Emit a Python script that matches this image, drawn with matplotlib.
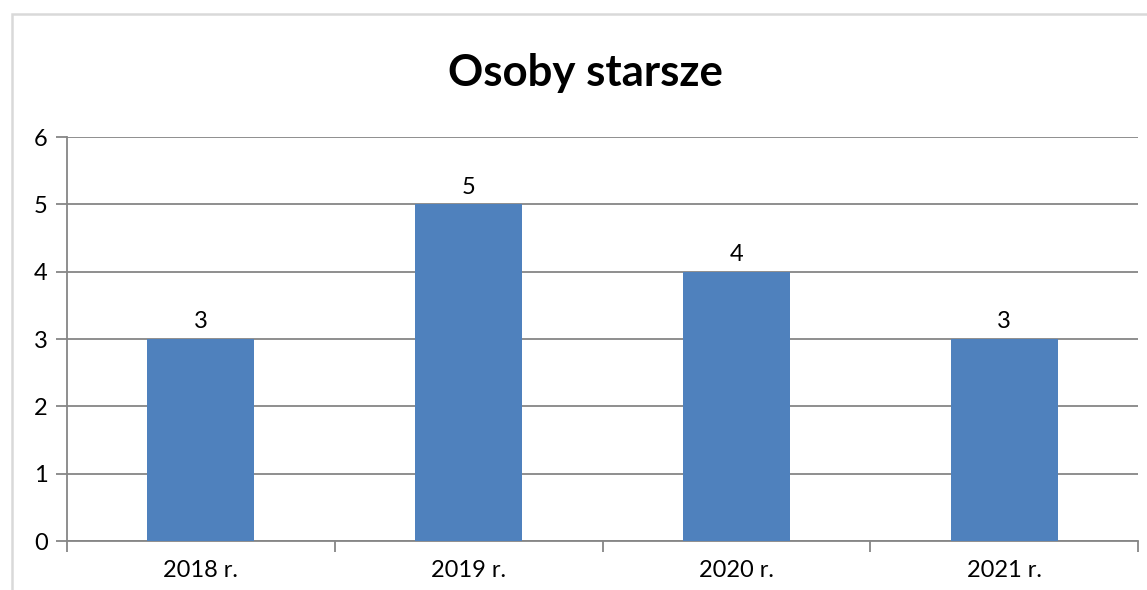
import numpy as np
import matplotlib.pyplot as plt
from matplotlib.patches import Rectangle

# chart data
categories = ['2018 r.', '2019 r.', '2020 r.', '2021 r.']
values = [3, 5, 4, 3]
yticks = [0, 1, 2, 3, 4, 5, 6]

plt.rcParams['font.family'] = ['Lato', 'DejaVu Sans']

fig = plt.figure(figsize=(11.47, 5.9), dpi=100)
ax = fig.add_axes([67/1147, 1 - 541/590, (1138 - 67)/1147, (541 - 137)/590])

# light frame around the chart area
fig.patches.append(Rectangle((11.5/1147, -0.1), 1.2, (590 - 13.5)/590 + 0.1,
                             transform=fig.transFigure, fill=False,
                             edgecolor='#d9d9d9', linewidth=1.8))

x = np.arange(len(categories))
bars = ax.bar(x, values, width=0.4, color='#4f81bd', zorder=3)
for xi, v in zip(x, values):
    ax.text(xi, v + 0.1, str(v), ha='center', va='bottom', fontsize=17)

ax.set_xlim(-0.5, len(categories) - 0.5)
ax.set_ylim(0, 6)
ax.set_yticks(yticks)
ax.set_yticklabels([str(t) for t in yticks], fontsize=17)
ax.yaxis.grid(True, color='#868686', linewidth=1.3, zorder=0)

# boundary ticks between categories, labels at centres
ax.set_xticks(np.arange(-0.5, len(categories)))
ax.set_xticklabels([])
ax.set_xticks(x, minor=True)
ax.set_xticklabels(categories, minor=True, fontsize=17)
ax.tick_params(axis='x', which='major', length=8, width=1.3, color='#868686', direction='out')
ax.tick_params(axis='x', which='minor', length=0, pad=14)
ax.tick_params(axis='y', length=8, width=1.3, color='#868686', pad=6)

for side in ['top', 'right']:
    ax.spines[side].set_visible(False)
for side in ['left', 'bottom']:
    ax.spines[side].set_color('#868686')
    ax.spines[side].set_linewidth(1.3)

fig.text(585/1147, 1 - 73/590, 'Osoby starsze', ha='center', va='center',
         fontsize=31.5, fontweight='bold')

fig.savefig('out.png', dpi=100)
